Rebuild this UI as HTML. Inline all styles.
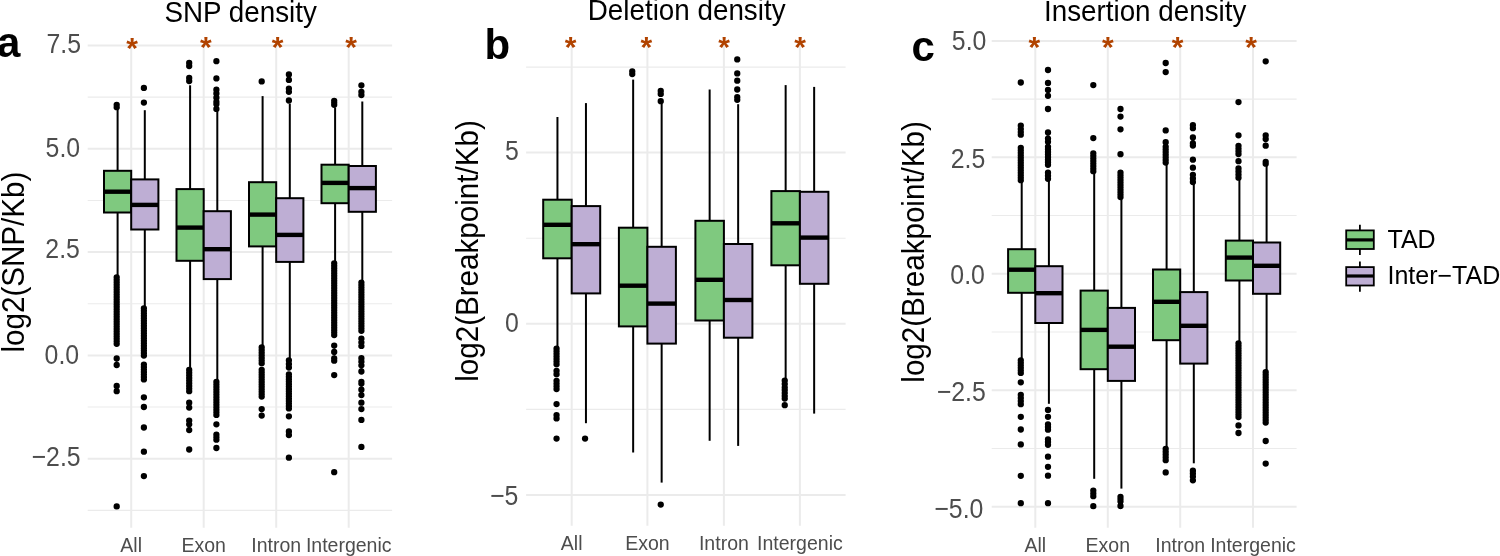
<!DOCTYPE html><html><head><meta charset="utf-8"><style>html,body{margin:0;padding:0;background:#fff;overflow:hidden}svg{display:block;will-change:transform}text{font-family:"Liberation Sans", sans-serif}</style></head><body>
<svg width="1500" height="556" viewBox="0 0 1500 556">
<rect width="1500" height="556" fill="#fff"/>
<line x1="87.7" y1="97.15" x2="392.1" y2="97.15" stroke="#EBEBEB" stroke-width="1.1"/>
<line x1="87.7" y1="200.45" x2="392.1" y2="200.45" stroke="#EBEBEB" stroke-width="1.1"/>
<line x1="87.7" y1="303.75" x2="392.1" y2="303.75" stroke="#EBEBEB" stroke-width="1.1"/>
<line x1="87.7" y1="407.05" x2="392.1" y2="407.05" stroke="#EBEBEB" stroke-width="1.1"/>
<line x1="87.7" y1="510.35" x2="392.1" y2="510.35" stroke="#EBEBEB" stroke-width="1.1"/>
<line x1="87.7" y1="45.5" x2="392.1" y2="45.5" stroke="#EBEBEB" stroke-width="2.0"/>
<line x1="87.7" y1="148.8" x2="392.1" y2="148.8" stroke="#EBEBEB" stroke-width="2.0"/>
<line x1="87.7" y1="252.1" x2="392.1" y2="252.1" stroke="#EBEBEB" stroke-width="2.0"/>
<line x1="87.7" y1="355.4" x2="392.1" y2="355.4" stroke="#EBEBEB" stroke-width="2.0"/>
<line x1="87.7" y1="458.7" x2="392.1" y2="458.7" stroke="#EBEBEB" stroke-width="2.0"/>
<line x1="131.2" y1="46" x2="131.2" y2="527.7" stroke="#EBEBEB" stroke-width="2.0"/>
<line x1="203.7" y1="46" x2="203.7" y2="527.7" stroke="#EBEBEB" stroke-width="2.0"/>
<line x1="276.2" y1="46" x2="276.2" y2="527.7" stroke="#EBEBEB" stroke-width="2.0"/>
<line x1="348.7" y1="46" x2="348.7" y2="527.7" stroke="#EBEBEB" stroke-width="2.0"/>
<line x1="117.6" y1="109.3" x2="117.6" y2="170.8" stroke="#000" stroke-width="2.0"/>
<line x1="117.6" y1="212.5" x2="117.6" y2="277" stroke="#000" stroke-width="2.0"/>
<rect x="104" y="170.8" width="27.2" height="41.7" fill="#7FC97F" stroke="#000" stroke-width="2.0"/>
<line x1="104" y1="191.7" x2="131.2" y2="191.7" stroke="#000" stroke-width="4.4"/>
<path d="M116.7 104.8h0M116.7 107.2h0M116.7 277.3h0M116.7 279.76h0M116.7 282.23h0M116.7 284.69h0M116.7 287.15h0M116.7 289.61h0M116.7 292.08h0M116.7 294.54h0M116.7 297h0M116.7 299.47h0M116.7 301.93h0M116.7 304.39h0M116.7 306.86h0M116.7 309.32h0M116.7 311.78h0M116.7 314.24h0M116.7 316.71h0M116.7 319.17h0M116.7 321.63h0M116.7 324.1h0M116.7 326.56h0M116.7 329.02h0M116.7 331.49h0M116.7 333.95h0M116.7 336.41h0M116.7 338.87h0M116.7 341.34h0M116.7 343.8h0M116.7 358.5h0M116.7 365h0M116.7 386h0M116.7 391.2h0M116.7 506.4h0" stroke="#000" stroke-width="6.3" stroke-linecap="round" fill="none"/>
<line x1="144.8" y1="110.2" x2="144.8" y2="179.4" stroke="#000" stroke-width="2.0"/>
<line x1="144.8" y1="229.5" x2="144.8" y2="308" stroke="#000" stroke-width="2.0"/>
<rect x="131.2" y="179.4" width="27.2" height="50.1" fill="#BEAED4" stroke="#000" stroke-width="2.0"/>
<line x1="131.2" y1="204.9" x2="158.4" y2="204.9" stroke="#000" stroke-width="4.4"/>
<path d="M143.9 87.9h0M143.9 102.6h0M143.9 308.3h0M143.9 310.79h0M143.9 313.28h0M143.9 315.77h0M143.9 318.26h0M143.9 320.75h0M143.9 323.24h0M143.9 325.73h0M143.9 328.22h0M143.9 330.71h0M143.9 333.19h0M143.9 335.68h0M143.9 338.17h0M143.9 340.66h0M143.9 343.15h0M143.9 345.64h0M143.9 348.13h0M143.9 350.62h0M143.9 353.11h0M143.9 355.6h0M143.9 364.6h0M143.9 367.07h0M143.9 369.53h0M143.9 372h0M143.9 374.47h0M143.9 376.93h0M143.9 379.4h0M143.9 397.3h0M143.9 407h0M143.9 427.5h0M143.9 451.7h0M143.9 476.1h0" stroke="#000" stroke-width="6.3" stroke-linecap="round" fill="none"/>
<line x1="190.1" y1="85.3" x2="190.1" y2="189.1" stroke="#000" stroke-width="2.0"/>
<line x1="190.1" y1="260.8" x2="190.1" y2="369.7" stroke="#000" stroke-width="2.0"/>
<rect x="176.5" y="189.1" width="27.2" height="71.7" fill="#7FC97F" stroke="#000" stroke-width="2.0"/>
<line x1="176.5" y1="227.6" x2="203.7" y2="227.6" stroke="#000" stroke-width="4.4"/>
<path d="M189.2 63h0M189.2 66h0M189.2 78h0M189.2 81h0M189.2 370h0M189.2 372.65h0M189.2 375.3h0M189.2 377.95h0M189.2 380.6h0M189.2 383.25h0M189.2 385.9h0M189.2 388.55h0M189.2 391.2h0M189.2 402.7h0M189.2 407.6h0M189.2 420.6h0M189.2 424.3h0M189.2 430.1h0M189.2 449.5h0" stroke="#000" stroke-width="6.3" stroke-linecap="round" fill="none"/>
<line x1="217.3" y1="111.2" x2="217.3" y2="211.2" stroke="#000" stroke-width="2.0"/>
<line x1="217.3" y1="279.1" x2="217.3" y2="381.6" stroke="#000" stroke-width="2.0"/>
<rect x="203.7" y="211.2" width="27.2" height="67.9" fill="#BEAED4" stroke="#000" stroke-width="2.0"/>
<line x1="203.7" y1="249.2" x2="230.9" y2="249.2" stroke="#000" stroke-width="4.4"/>
<path d="M216.4 61.2h0M216.4 78.4h0M216.4 89.7h0M216.4 93.4h0M216.4 97.7h0M216.4 102h0M216.4 104h0M216.4 108.9h0M216.4 381.9h0M216.4 384.44h0M216.4 386.98h0M216.4 389.52h0M216.4 392.05h0M216.4 394.59h0M216.4 397.13h0M216.4 399.67h0M216.4 402.21h0M216.4 404.75h0M216.4 407.28h0M216.4 409.82h0M216.4 412.36h0M216.4 414.9h0M216.4 424.3h0M216.4 434.7h0M216.4 437.2h0M216.4 439.7h0M216.4 448h0" stroke="#000" stroke-width="6.3" stroke-linecap="round" fill="none"/>
<line x1="262.6" y1="96.1" x2="262.6" y2="182.2" stroke="#000" stroke-width="2.0"/>
<line x1="262.6" y1="246.4" x2="262.6" y2="347.1" stroke="#000" stroke-width="2.0"/>
<rect x="249" y="182.2" width="27.2" height="64.2" fill="#7FC97F" stroke="#000" stroke-width="2.0"/>
<line x1="249" y1="214.6" x2="276.2" y2="214.6" stroke="#000" stroke-width="4.4"/>
<path d="M261.7 81.4h0M261.7 347.4h0M261.7 350.03h0M261.7 352.67h0M261.7 355.3h0M261.7 357.93h0M261.7 360.57h0M261.7 363.2h0M261.7 369.8h0M261.7 372.24h0M261.7 374.67h0M261.7 377.11h0M261.7 379.55h0M261.7 381.98h0M261.7 384.42h0M261.7 386.85h0M261.7 389.29h0M261.7 391.73h0M261.7 394.16h0M261.7 396.6h0M261.7 409.1h0M261.7 415.6h0" stroke="#000" stroke-width="6.3" stroke-linecap="round" fill="none"/>
<line x1="289.8" y1="103.7" x2="289.8" y2="198.2" stroke="#000" stroke-width="2.0"/>
<line x1="289.8" y1="261.9" x2="289.8" y2="360" stroke="#000" stroke-width="2.0"/>
<rect x="276.2" y="198.2" width="27.2" height="63.7" fill="#BEAED4" stroke="#000" stroke-width="2.0"/>
<line x1="276.2" y1="234.9" x2="303.4" y2="234.9" stroke="#000" stroke-width="4.4"/>
<path d="M288.9 74.5h0M288.9 79.9h0M288.9 88.6h0M288.9 91.8h0M288.9 100.5h0M288.9 360.3h0M288.9 363.9h0M288.9 367.5h0M288.9 374.3h0M288.9 376.74h0M288.9 379.17h0M288.9 381.61h0M288.9 384.04h0M288.9 386.48h0M288.9 388.91h0M288.9 391.35h0M288.9 393.79h0M288.9 396.22h0M288.9 398.66h0M288.9 401.09h0M288.9 403.53h0M288.9 405.96h0M288.9 408.4h0M288.9 416.3h0M288.9 431.4h0M288.9 435h0M288.9 457.7h0" stroke="#000" stroke-width="6.3" stroke-linecap="round" fill="none"/>
<line x1="335.1" y1="107.5" x2="335.1" y2="164.7" stroke="#000" stroke-width="2.0"/>
<line x1="335.1" y1="203.2" x2="335.1" y2="263" stroke="#000" stroke-width="2.0"/>
<rect x="321.5" y="164.7" width="27.2" height="38.5" fill="#7FC97F" stroke="#000" stroke-width="2.0"/>
<line x1="321.5" y1="182.9" x2="348.7" y2="182.9" stroke="#000" stroke-width="4.4"/>
<path d="M334.2 100.8h0M334.2 102.8h0M334.2 104.8h0M334.2 263.3h0M334.2 265.78h0M334.2 268.25h0M334.2 270.73h0M334.2 273.2h0M334.2 275.68h0M334.2 278.16h0M334.2 280.63h0M334.2 283.11h0M334.2 285.58h0M334.2 288.06h0M334.2 290.53h0M334.2 293.01h0M334.2 295.49h0M334.2 297.96h0M334.2 300.44h0M334.2 302.91h0M334.2 305.39h0M334.2 307.87h0M334.2 310.34h0M334.2 312.82h0M334.2 315.29h0M334.2 317.77h0M334.2 320.24h0M334.2 322.72h0M334.2 325.2h0M334.2 327.67h0M334.2 330.15h0M334.2 332.62h0M334.2 335.1h0M334.2 345.6h0M334.2 352h0M334.2 358.5h0M334.2 360.7h0M334.2 375.1h0M334.2 472.2h0" stroke="#000" stroke-width="6.3" stroke-linecap="round" fill="none"/>
<line x1="362.3" y1="101.5" x2="362.3" y2="166" stroke="#000" stroke-width="2.0"/>
<line x1="362.3" y1="211.8" x2="362.3" y2="282.3" stroke="#000" stroke-width="2.0"/>
<rect x="348.7" y="166" width="27.2" height="45.8" fill="#BEAED4" stroke="#000" stroke-width="2.0"/>
<line x1="348.7" y1="188.1" x2="375.9" y2="188.1" stroke="#000" stroke-width="4.4"/>
<path d="M361.4 85.3h0M361.4 91.8h0M361.4 95h0M361.4 282.6h0M361.4 285.01h0M361.4 287.42h0M361.4 289.83h0M361.4 292.24h0M361.4 294.65h0M361.4 297.06h0M361.4 299.47h0M361.4 301.88h0M361.4 304.29h0M361.4 306.7h0M361.4 309.11h0M361.4 311.52h0M361.4 313.93h0M361.4 316.34h0M361.4 318.75h0M361.4 321.16h0M361.4 323.57h0M361.4 325.98h0M361.4 328.39h0M361.4 330.8h0M361.4 338.7h0M361.4 342.3h0M361.4 345.9h0M361.4 358.2h0M361.4 361.75h0M361.4 365.3h0M361.4 371.5h0M361.4 381.8h0M361.4 383.6h0M361.4 389.7h0M361.4 395.1h0M361.4 402.7h0M361.4 409.1h0M361.4 419.9h0M361.4 446.9h0" stroke="#000" stroke-width="6.3" stroke-linecap="round" fill="none"/>
<text x="132.1" y="58" fill="#B14300" font-size="30" font-weight="bold" text-anchor="middle">*</text>
<text x="205.8" y="57" fill="#B14300" font-size="30" font-weight="bold" text-anchor="middle">*</text>
<text x="277.7" y="57" fill="#B14300" font-size="30" font-weight="bold" text-anchor="middle">*</text>
<text x="351.2" y="57" fill="#B14300" font-size="30" font-weight="bold" text-anchor="middle">*</text>
<text transform="translate(81 53) scale(0.9 1)" fill="#4D4D4D" font-size="27.6" text-anchor="end">7.5</text>
<text transform="translate(80.1 157) scale(0.9 1)" fill="#4D4D4D" font-size="27.6" text-anchor="end">5.0</text>
<text transform="translate(79.9 258.15) scale(0.9 1)" fill="#4D4D4D" font-size="27.6" text-anchor="end">2.5</text>
<text transform="translate(79.1 363.55) scale(0.9 1)" fill="#4D4D4D" font-size="27.6" text-anchor="end">0.0</text>
<text transform="translate(80.6 465.55) scale(0.9 1)" fill="#4D4D4D" font-size="27.6" text-anchor="end">−2.5</text>
<text x="131.2" y="552.2" fill="#4D4D4D" font-size="19.5" text-anchor="middle">All</text>
<text x="203.7" y="552.2" fill="#4D4D4D" font-size="19.5" text-anchor="middle">Exon</text>
<text x="276.2" y="552.2" fill="#4D4D4D" font-size="19.5" text-anchor="middle">Intron</text>
<text x="348.7" y="552.2" fill="#4D4D4D" font-size="19.5" text-anchor="middle">Intergenic</text>
<text transform="translate(240.6 21.5) scale(1 1.035)" fill="#000" font-size="27.8" text-anchor="middle">SNP density</text>
<text transform="translate(23.6 262.1) rotate(-90) scale(1 1.06)" fill="#000" font-size="29.6" text-anchor="middle">log2(SNP/Kb)</text>
<text x="-3" y="56.8" fill="#000" font-size="42" font-weight="bold">a</text>
<line x1="526.1" y1="67.1" x2="845.6" y2="67.1" stroke="#EBEBEB" stroke-width="1.1"/>
<line x1="526.1" y1="238.2" x2="845.6" y2="238.2" stroke="#EBEBEB" stroke-width="1.1"/>
<line x1="526.1" y1="409.4" x2="845.6" y2="409.4" stroke="#EBEBEB" stroke-width="1.1"/>
<line x1="526.1" y1="152.6" x2="845.6" y2="152.6" stroke="#EBEBEB" stroke-width="2.0"/>
<line x1="526.1" y1="323.8" x2="845.6" y2="323.8" stroke="#EBEBEB" stroke-width="2.0"/>
<line x1="526.1" y1="495" x2="845.6" y2="495" stroke="#EBEBEB" stroke-width="2.0"/>
<line x1="571.7" y1="46" x2="571.7" y2="525.8" stroke="#EBEBEB" stroke-width="2.0"/>
<line x1="647.4" y1="46" x2="647.4" y2="525.8" stroke="#EBEBEB" stroke-width="2.0"/>
<line x1="723.9" y1="46" x2="723.9" y2="525.8" stroke="#EBEBEB" stroke-width="2.0"/>
<line x1="799.9" y1="46" x2="799.9" y2="525.8" stroke="#EBEBEB" stroke-width="2.0"/>
<line x1="557.45" y1="117" x2="557.45" y2="199.7" stroke="#000" stroke-width="2.0"/>
<line x1="557.45" y1="258.3" x2="557.45" y2="348.4" stroke="#000" stroke-width="2.0"/>
<rect x="543.2" y="199.7" width="28.5" height="58.6" fill="#7FC97F" stroke="#000" stroke-width="2.0"/>
<line x1="543.2" y1="224.8" x2="571.7" y2="224.8" stroke="#000" stroke-width="4.4"/>
<path d="M556.55 348.7h0M556.55 351.28h0M556.55 353.87h0M556.55 356.45h0M556.55 359.03h0M556.55 361.62h0M556.55 364.2h0M556.55 370.8h0M556.55 374.2h0M556.55 380.8h0M556.55 383.57h0M556.55 386.33h0M556.55 389.1h0M556.55 404.1h0M556.55 415.1h0M556.55 418.4h0M556.55 438.6h0" stroke="#000" stroke-width="6.3" stroke-linecap="round" fill="none"/>
<line x1="585.95" y1="103.1" x2="585.95" y2="206.1" stroke="#000" stroke-width="2.0"/>
<line x1="585.95" y1="293.4" x2="585.95" y2="423.2" stroke="#000" stroke-width="2.0"/>
<rect x="571.7" y="206.1" width="28.5" height="87.3" fill="#BEAED4" stroke="#000" stroke-width="2.0"/>
<line x1="571.7" y1="244.2" x2="600.2" y2="244.2" stroke="#000" stroke-width="4.4"/>
<path d="M585.05 438.6h0" stroke="#000" stroke-width="6.3" stroke-linecap="round" fill="none"/>
<line x1="633.15" y1="79.6" x2="633.15" y2="227.7" stroke="#000" stroke-width="2.0"/>
<line x1="633.15" y1="326.4" x2="633.15" y2="452.5" stroke="#000" stroke-width="2.0"/>
<rect x="618.9" y="227.7" width="28.5" height="98.7" fill="#7FC97F" stroke="#000" stroke-width="2.0"/>
<line x1="618.9" y1="285.7" x2="647.4" y2="285.7" stroke="#000" stroke-width="4.4"/>
<path d="M632.25 71.5h0M632.25 74h0" stroke="#000" stroke-width="6.3" stroke-linecap="round" fill="none"/>
<line x1="661.65" y1="103.8" x2="661.65" y2="246.8" stroke="#000" stroke-width="2.0"/>
<line x1="661.65" y1="343.6" x2="661.65" y2="482.6" stroke="#000" stroke-width="2.0"/>
<rect x="647.4" y="246.8" width="28.5" height="96.8" fill="#BEAED4" stroke="#000" stroke-width="2.0"/>
<line x1="647.4" y1="303.6" x2="675.9" y2="303.6" stroke="#000" stroke-width="4.4"/>
<path d="M660.75 91h0M660.75 93.9h0M660.75 101.2h0M660.75 504.6h0" stroke="#000" stroke-width="6.3" stroke-linecap="round" fill="none"/>
<line x1="709.65" y1="89.5" x2="709.65" y2="220.8" stroke="#000" stroke-width="2.0"/>
<line x1="709.65" y1="320.5" x2="709.65" y2="440.8" stroke="#000" stroke-width="2.0"/>
<rect x="695.4" y="220.8" width="28.5" height="99.7" fill="#7FC97F" stroke="#000" stroke-width="2.0"/>
<line x1="695.4" y1="279.8" x2="723.9" y2="279.8" stroke="#000" stroke-width="4.4"/>
<line x1="738.15" y1="104.2" x2="738.15" y2="244" stroke="#000" stroke-width="2.0"/>
<line x1="738.15" y1="337.7" x2="738.15" y2="445.9" stroke="#000" stroke-width="2.0"/>
<rect x="723.9" y="244" width="28.5" height="93.7" fill="#BEAED4" stroke="#000" stroke-width="2.0"/>
<line x1="723.9" y1="300" x2="752.4" y2="300" stroke="#000" stroke-width="4.4"/>
<path d="M737.25 59.4h0M737.25 73.4h0M737.25 80.7h0M737.25 89.5h0M737.25 97.2h0M737.25 99.8h0" stroke="#000" stroke-width="6.3" stroke-linecap="round" fill="none"/>
<line x1="785.65" y1="85.1" x2="785.65" y2="191.1" stroke="#000" stroke-width="2.0"/>
<line x1="785.65" y1="265.3" x2="785.65" y2="378.8" stroke="#000" stroke-width="2.0"/>
<rect x="771.4" y="191.1" width="28.5" height="74.2" fill="#7FC97F" stroke="#000" stroke-width="2.0"/>
<line x1="771.4" y1="223.3" x2="799.9" y2="223.3" stroke="#000" stroke-width="4.4"/>
<path d="M784.75 380.6h0M784.75 384h0M784.75 387.6h0M784.75 390h0M784.75 393.1h0M784.75 396h0M784.75 398.6h0M784.75 405.2h0" stroke="#000" stroke-width="6.3" stroke-linecap="round" fill="none"/>
<line x1="814.15" y1="86.9" x2="814.15" y2="191.8" stroke="#000" stroke-width="2.0"/>
<line x1="814.15" y1="283.8" x2="814.15" y2="413.6" stroke="#000" stroke-width="2.0"/>
<rect x="799.9" y="191.8" width="28.5" height="92" fill="#BEAED4" stroke="#000" stroke-width="2.0"/>
<line x1="799.9" y1="237.6" x2="828.4" y2="237.6" stroke="#000" stroke-width="4.4"/>
<text x="570.5" y="57" fill="#B14300" font-size="30" font-weight="bold" text-anchor="middle">*</text>
<text x="646.4" y="57" fill="#B14300" font-size="30" font-weight="bold" text-anchor="middle">*</text>
<text x="724.2" y="57" fill="#B14300" font-size="30" font-weight="bold" text-anchor="middle">*</text>
<text x="800.1" y="57" fill="#B14300" font-size="30" font-weight="bold" text-anchor="middle">*</text>
<text transform="translate(518.7 160.05) scale(0.9 1)" fill="#4D4D4D" font-size="27.6" text-anchor="end">5</text>
<text transform="translate(518.8 332.3) scale(0.9 1)" fill="#4D4D4D" font-size="27.6" text-anchor="end">0</text>
<text transform="translate(518.4 505) scale(0.9 1)" fill="#4D4D4D" font-size="27.6" text-anchor="end">−5</text>
<text x="571.7" y="550.3" fill="#4D4D4D" font-size="19.5" text-anchor="middle">All</text>
<text x="647.4" y="550.3" fill="#4D4D4D" font-size="19.5" text-anchor="middle">Exon</text>
<text x="723.9" y="550.3" fill="#4D4D4D" font-size="19.5" text-anchor="middle">Intron</text>
<text x="799.9" y="550.3" fill="#4D4D4D" font-size="19.5" text-anchor="middle">Intergenic</text>
<text transform="translate(686.65 19.8) scale(1 1.035)" fill="#000" font-size="27.8" text-anchor="middle">Deletion density</text>
<text transform="translate(478 251) rotate(-90) scale(1 1.06)" fill="#000" font-size="29.6" text-anchor="middle">log2(Breakpoint/Kb)</text>
<text x="484.4" y="58.8" fill="#000" font-size="42" font-weight="bold">b</text>
<line x1="991.7" y1="99.15" x2="1296.6" y2="99.15" stroke="#EBEBEB" stroke-width="1.1"/>
<line x1="991.7" y1="215.5" x2="1296.6" y2="215.5" stroke="#EBEBEB" stroke-width="1.1"/>
<line x1="991.7" y1="331.95" x2="1296.6" y2="331.95" stroke="#EBEBEB" stroke-width="1.1"/>
<line x1="991.7" y1="448.45" x2="1296.6" y2="448.45" stroke="#EBEBEB" stroke-width="1.1"/>
<line x1="991.7" y1="41" x2="1296.6" y2="41" stroke="#EBEBEB" stroke-width="2.0"/>
<line x1="991.7" y1="157.3" x2="1296.6" y2="157.3" stroke="#EBEBEB" stroke-width="2.0"/>
<line x1="991.7" y1="273.7" x2="1296.6" y2="273.7" stroke="#EBEBEB" stroke-width="2.0"/>
<line x1="991.7" y1="390.2" x2="1296.6" y2="390.2" stroke="#EBEBEB" stroke-width="2.0"/>
<line x1="991.7" y1="506.7" x2="1296.6" y2="506.7" stroke="#EBEBEB" stroke-width="2.0"/>
<line x1="1035.3" y1="46" x2="1035.3" y2="527.8" stroke="#EBEBEB" stroke-width="2.0"/>
<line x1="1107.8" y1="46" x2="1107.8" y2="527.8" stroke="#EBEBEB" stroke-width="2.0"/>
<line x1="1180.2" y1="46" x2="1180.2" y2="527.8" stroke="#EBEBEB" stroke-width="2.0"/>
<line x1="1253" y1="46" x2="1253" y2="527.8" stroke="#EBEBEB" stroke-width="2.0"/>
<line x1="1021.7" y1="180.5" x2="1021.7" y2="249.2" stroke="#000" stroke-width="2.0"/>
<line x1="1021.7" y1="292.8" x2="1021.7" y2="360" stroke="#000" stroke-width="2.0"/>
<rect x="1008.1" y="249.2" width="27.2" height="43.6" fill="#7FC97F" stroke="#000" stroke-width="2.0"/>
<line x1="1008.1" y1="269.7" x2="1035.3" y2="269.7" stroke="#000" stroke-width="4.4"/>
<path d="M1020.8 82.5h0M1020.8 125.6h0M1020.8 128.9h0M1020.8 132.1h0M1020.8 134.7h0M1020.8 147.8h0M1020.8 150.29h0M1020.8 152.78h0M1020.8 155.28h0M1020.8 157.77h0M1020.8 160.26h0M1020.8 162.75h0M1020.8 165.25h0M1020.8 167.74h0M1020.8 170.23h0M1020.8 172.72h0M1020.8 175.22h0M1020.8 177.71h0M1020.8 180.2h0M1020.8 360.3h0M1020.8 362.82h0M1020.8 365.34h0M1020.8 367.86h0M1020.8 370.38h0M1020.8 372.9h0M1020.8 382.3h0M1020.8 394.8h0M1020.8 397.93h0M1020.8 401.07h0M1020.8 404.2h0M1020.8 416.8h0M1020.8 429.5h0M1020.8 444.4h0M1020.8 475.8h0M1020.8 503.2h0" stroke="#000" stroke-width="6.3" stroke-linecap="round" fill="none"/>
<line x1="1048.9" y1="179.1" x2="1048.9" y2="266.2" stroke="#000" stroke-width="2.0"/>
<line x1="1048.9" y1="323" x2="1048.9" y2="403.8" stroke="#000" stroke-width="2.0"/>
<rect x="1035.3" y="266.2" width="27.2" height="56.8" fill="#BEAED4" stroke="#000" stroke-width="2.0"/>
<line x1="1035.3" y1="293.2" x2="1062.5" y2="293.2" stroke="#000" stroke-width="4.4"/>
<path d="M1048 70h0M1048 82.9h0M1048 90h0M1048 95.8h0M1048 109h0M1048 132.5h0M1048 138.6h0M1048 141.8h0M1048 146.8h0M1048 149.37h0M1048 151.94h0M1048 154.51h0M1048 157.09h0M1048 159.66h0M1048 162.23h0M1048 164.8h0M1048 172.7h0M1048 175.75h0M1048 178.8h0M1048 409.9h0M1048 416.8h0M1048 424.3h0M1048 427h0M1048 429.7h0M1048 439.4h0M1048 442h0M1048 444.8h0M1048 456.7h0M1048 466.8h0M1048 475.7h0M1048 503.2h0" stroke="#000" stroke-width="6.3" stroke-linecap="round" fill="none"/>
<line x1="1094.2" y1="171.5" x2="1094.2" y2="290.6" stroke="#000" stroke-width="2.0"/>
<line x1="1094.2" y1="369.2" x2="1094.2" y2="478.8" stroke="#000" stroke-width="2.0"/>
<rect x="1080.6" y="290.6" width="27.2" height="78.6" fill="#7FC97F" stroke="#000" stroke-width="2.0"/>
<line x1="1080.6" y1="329.9" x2="1107.8" y2="329.9" stroke="#000" stroke-width="4.4"/>
<path d="M1093.3 85.1h0M1093.3 138.1h0M1093.3 153.3h0M1093.3 155.86h0M1093.3 158.41h0M1093.3 160.97h0M1093.3 163.53h0M1093.3 166.09h0M1093.3 168.64h0M1093.3 171.2h0M1093.3 490.6h0M1093.3 493.5h0M1093.3 496.2h0M1093.3 506.2h0" stroke="#000" stroke-width="6.3" stroke-linecap="round" fill="none"/>
<line x1="1121.4" y1="197.4" x2="1121.4" y2="307.9" stroke="#000" stroke-width="2.0"/>
<line x1="1121.4" y1="380.9" x2="1121.4" y2="488.6" stroke="#000" stroke-width="2.0"/>
<rect x="1107.8" y="307.9" width="27.2" height="73" fill="#BEAED4" stroke="#000" stroke-width="2.0"/>
<line x1="1107.8" y1="346.7" x2="1135" y2="346.7" stroke="#000" stroke-width="4.4"/>
<path d="M1120.5 109h0M1120.5 116.6h0M1120.5 129.3h0M1120.5 154.2h0M1120.5 172.7h0M1120.5 175.14h0M1120.5 177.58h0M1120.5 180.02h0M1120.5 182.46h0M1120.5 184.9h0M1120.5 187.34h0M1120.5 189.78h0M1120.5 192.22h0M1120.5 194.66h0M1120.5 197.1h0M1120.5 497h0M1120.5 499h0M1120.5 501.2h0M1120.5 506h0" stroke="#000" stroke-width="6.3" stroke-linecap="round" fill="none"/>
<line x1="1166.6" y1="162.9" x2="1166.6" y2="269.5" stroke="#000" stroke-width="2.0"/>
<line x1="1166.6" y1="340.2" x2="1166.6" y2="448.5" stroke="#000" stroke-width="2.0"/>
<rect x="1153" y="269.5" width="27.2" height="70.7" fill="#7FC97F" stroke="#000" stroke-width="2.0"/>
<line x1="1153" y1="301.8" x2="1180.2" y2="301.8" stroke="#000" stroke-width="4.4"/>
<path d="M1165.7 63h0M1165.7 72.1h0M1165.7 130.4h0M1165.7 142.2h0M1165.7 146.8h0M1165.7 149.43h0M1165.7 152.07h0M1165.7 154.7h0M1165.7 157.33h0M1165.7 159.97h0M1165.7 162.6h0M1165.7 448.8h0M1165.7 451.65h0M1165.7 454.5h0M1165.7 457.35h0M1165.7 460.2h0M1165.7 472.4h0" stroke="#000" stroke-width="6.3" stroke-linecap="round" fill="none"/>
<line x1="1193.8" y1="182.3" x2="1193.8" y2="292.1" stroke="#000" stroke-width="2.0"/>
<line x1="1193.8" y1="363.6" x2="1193.8" y2="463.3" stroke="#000" stroke-width="2.0"/>
<rect x="1180.2" y="292.1" width="27.2" height="71.5" fill="#BEAED4" stroke="#000" stroke-width="2.0"/>
<line x1="1180.2" y1="325.8" x2="1207.4" y2="325.8" stroke="#000" stroke-width="4.4"/>
<path d="M1192.9 125.2h0M1192.9 128.2h0M1192.9 137.5h0M1192.9 143.3h0M1192.9 145.5h0M1192.9 159.7h0M1192.9 167.7h0M1192.9 174.8h0M1192.9 178.4h0M1192.9 182h0M1192.9 470.7h0M1192.9 473.5h0M1192.9 476.5h0M1192.9 480.3h0" stroke="#000" stroke-width="6.3" stroke-linecap="round" fill="none"/>
<line x1="1239.4" y1="178" x2="1239.4" y2="240.6" stroke="#000" stroke-width="2.0"/>
<line x1="1239.4" y1="280.5" x2="1239.4" y2="343" stroke="#000" stroke-width="2.0"/>
<rect x="1225.8" y="240.6" width="27.2" height="39.9" fill="#7FC97F" stroke="#000" stroke-width="2.0"/>
<line x1="1225.8" y1="257.6" x2="1253" y2="257.6" stroke="#000" stroke-width="4.4"/>
<path d="M1238.5 102.1h0M1238.5 135.3h0M1238.5 145.8h0M1238.5 148.53h0M1238.5 151.27h0M1238.5 154h0M1238.5 161.2h0M1238.5 168.4h0M1238.5 171.5h0M1238.5 174.6h0M1238.5 177.7h0M1238.5 343.3h0M1238.5 345.76h0M1238.5 348.22h0M1238.5 350.68h0M1238.5 353.14h0M1238.5 355.6h0M1238.5 358.06h0M1238.5 360.52h0M1238.5 362.98h0M1238.5 365.44h0M1238.5 367.9h0M1238.5 370.36h0M1238.5 372.82h0M1238.5 375.28h0M1238.5 377.74h0M1238.5 380.2h0M1238.5 382.66h0M1238.5 385.12h0M1238.5 387.58h0M1238.5 390.04h0M1238.5 392.5h0M1238.5 394.96h0M1238.5 397.42h0M1238.5 399.88h0M1238.5 402.34h0M1238.5 404.8h0M1238.5 407.26h0M1238.5 409.72h0M1238.5 412.18h0M1238.5 414.64h0M1238.5 417.1h0M1238.5 425.4h0M1238.5 433h0" stroke="#000" stroke-width="6.3" stroke-linecap="round" fill="none"/>
<line x1="1266.6" y1="164" x2="1266.6" y2="242.5" stroke="#000" stroke-width="2.0"/>
<line x1="1266.6" y1="293.8" x2="1266.6" y2="371.9" stroke="#000" stroke-width="2.0"/>
<rect x="1253" y="242.5" width="27.2" height="51.3" fill="#BEAED4" stroke="#000" stroke-width="2.0"/>
<line x1="1253" y1="265.8" x2="1280.2" y2="265.8" stroke="#000" stroke-width="4.4"/>
<path d="M1265.7 61.3h0M1265.7 135.3h0M1265.7 139h0M1265.7 145.7h0M1265.7 161.9h0M1265.7 163.7h0M1265.7 372.2h0M1265.7 374.71h0M1265.7 377.23h0M1265.7 379.75h0M1265.7 382.26h0M1265.7 384.77h0M1265.7 387.29h0M1265.7 389.81h0M1265.7 392.32h0M1265.7 394.83h0M1265.7 397.35h0M1265.7 399.87h0M1265.7 402.38h0M1265.7 404.89h0M1265.7 407.41h0M1265.7 409.93h0M1265.7 412.44h0M1265.7 414.95h0M1265.7 417.47h0M1265.7 419.99h0M1265.7 422.5h0M1265.7 441h0M1265.7 463.6h0" stroke="#000" stroke-width="6.3" stroke-linecap="round" fill="none"/>
<text x="1034.3" y="57" fill="#B14300" font-size="30" font-weight="bold" text-anchor="middle">*</text>
<text x="1107.9" y="57" fill="#B14300" font-size="30" font-weight="bold" text-anchor="middle">*</text>
<text x="1177.5" y="57" fill="#B14300" font-size="30" font-weight="bold" text-anchor="middle">*</text>
<text x="1251.1" y="57" fill="#B14300" font-size="30" font-weight="bold" text-anchor="middle">*</text>
<text transform="translate(986.4 50.05) scale(0.9 1)" fill="#4D4D4D" font-size="27.6" text-anchor="end">5.0</text>
<text transform="translate(985.2 167.6) scale(0.9 1)" fill="#4D4D4D" font-size="27.6" text-anchor="end">2.5</text>
<text transform="translate(984.9 284.15) scale(0.9 1)" fill="#4D4D4D" font-size="27.6" text-anchor="end">0.0</text>
<text transform="translate(985.8 400.65) scale(0.9 1)" fill="#4D4D4D" font-size="27.6" text-anchor="end">−2.5</text>
<text transform="translate(983.4 518.1) scale(0.9 1)" fill="#4D4D4D" font-size="27.6" text-anchor="end">−5.0</text>
<text x="1035.3" y="552.2" fill="#4D4D4D" font-size="19.5" text-anchor="middle">All</text>
<text x="1107.8" y="552.2" fill="#4D4D4D" font-size="19.5" text-anchor="middle">Exon</text>
<text x="1180.2" y="552.2" fill="#4D4D4D" font-size="19.5" text-anchor="middle">Intron</text>
<text x="1253" y="552.2" fill="#4D4D4D" font-size="19.5" text-anchor="middle">Intergenic</text>
<text transform="translate(1145.15 21.2) scale(1 1.035)" fill="#000" font-size="27.8" text-anchor="middle">Insertion density</text>
<text transform="translate(923.8 251.9) rotate(-90) scale(1 1.06)" fill="#000" font-size="29.6" text-anchor="middle">log2(Breakpoint/Kb)</text>
<text x="911.5" y="60.6" fill="#000" font-size="42" font-weight="bold">c</text>
<line x1="1359.9" y1="224.8" x2="1359.9" y2="255" stroke="#000" stroke-width="1.8"/>
<rect x="1346.2" y="230.4" width="27.6" height="18.6" fill="#7FC97F" stroke="#000" stroke-width="1.8"/>
<line x1="1346.2" y1="239.9" x2="1373.8" y2="239.9" stroke="#000" stroke-width="3.2"/>
<line x1="1359.9" y1="261.5" x2="1359.9" y2="291.7" stroke="#000" stroke-width="1.8"/>
<rect x="1346.2" y="267.1" width="27.6" height="18.4" fill="#BEAED4" stroke="#000" stroke-width="1.8"/>
<line x1="1346.2" y1="276" x2="1373.8" y2="276" stroke="#000" stroke-width="3.2"/>
<text x="1387.5" y="247.6" fill="#000" font-size="25">TAD</text>
<text x="1387.5" y="283.8" fill="#000" font-size="25">Inter−TAD</text>
</svg></body></html>
